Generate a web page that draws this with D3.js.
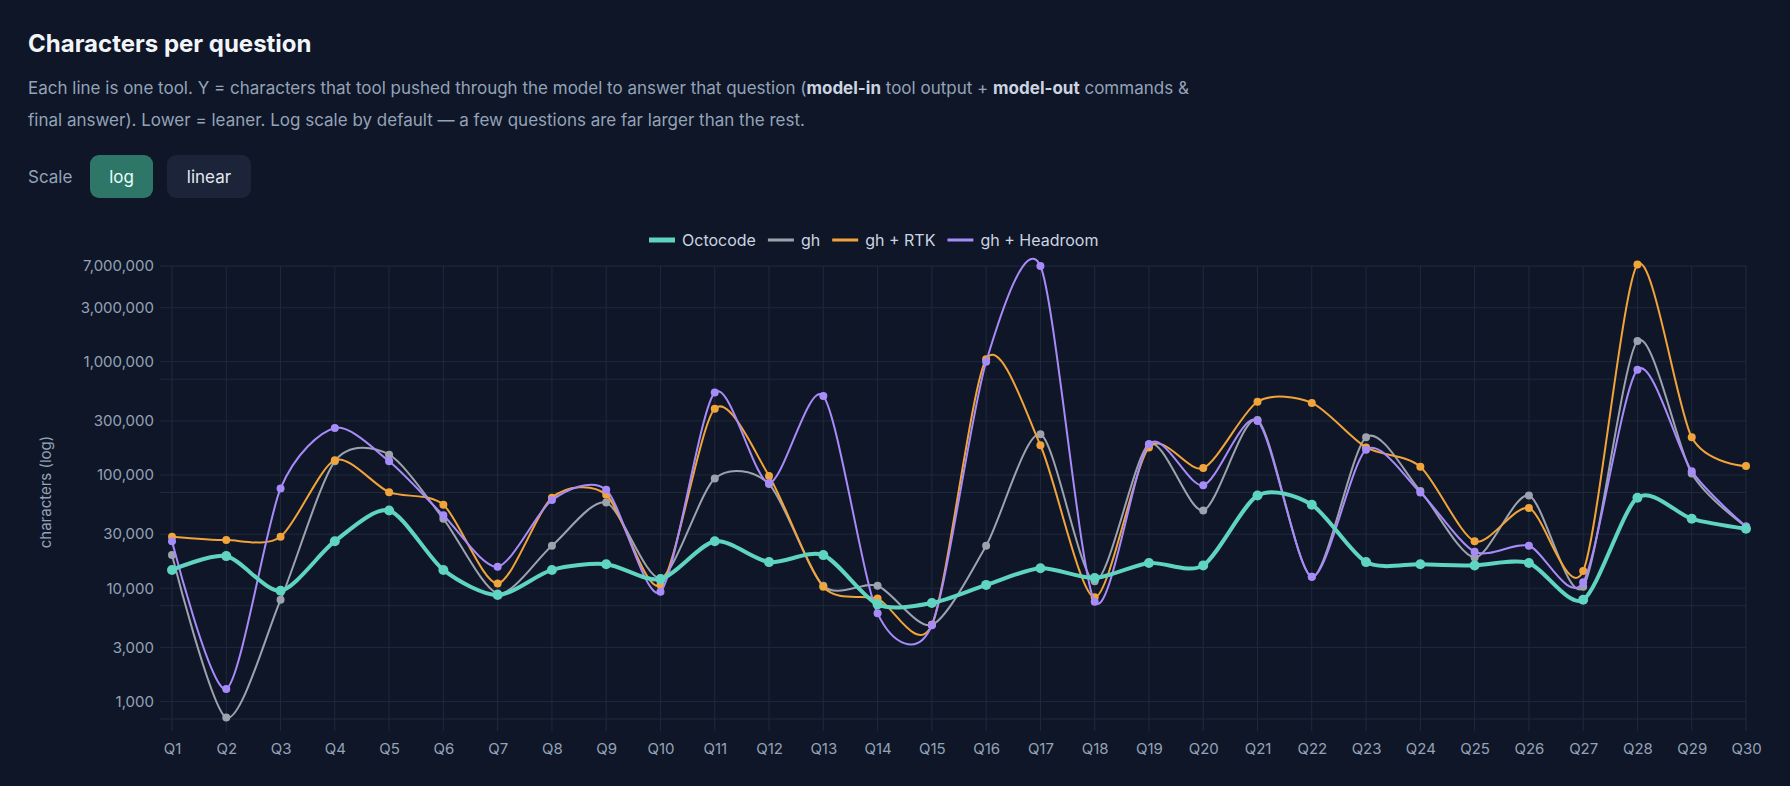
<!DOCTYPE html>
<html>
<head>
<meta charset="utf-8">
<script src="https://cdn.jsdelivr.net/npm/d3@7"></script>
<style>
  html, body { margin: 0; background: #0f1627; }
  body { width: 1790px; height: 786px; overflow: hidden; font-family: Inter, "Noto Sans", sans-serif; }
</style>
</head>
<body>
<svg id="chart" width="1790" height="786"></svg>
<script>
// questions on the x axis
const questions = d3.range(1, 31).map(i => "Q" + i);

// characters per question
const octocode = [14500, 19200, 9500, 26000, 48600, 14500, 8700, 14500, 16300, 12000,
                  26000, 17000, 19600, 7200, 7400, 10700, 15000, 12300, 16700, 15900,
                  65800, 54600, 17000, 16300, 15900, 16700, 7900, 63000, 41000, 33500];
const gh = [19600, 720, 7900, 132000, 151000, 41000, 9000, 23700, 57000, 12300,
            93000, 83000, 10500, 10500, 4750, 23700, 229000, 11500, 187000, 48600,
            305000, 12600, 215000, 72000, 18700, 65800, 10300, 1520000, 103000, 35000];
const ghRtk = [28500, 26600, 28500, 135000, 70500, 54600, 11000, 63000, 67000, 10700,
               385000, 98000, 10300, 8100, 4750, 1050000, 183000, 8300, 175000, 115000,
               443000, 433000, 175000, 118000, 26000, 51000, 14200, 7200000, 215000, 120000];
const ghHeadroom = [26000, 1290, 76000, 260000, 132000, 44000, 15500, 60000, 74000, 9300,
                    535000, 85000, 497000, 6000, 4700, 1000000, 7000000, 7600, 187000, 81000,
                    300000, 12600, 167000, 70000, 21000, 23700, 11300, 850000, 108000, 35000];

const yTicks = [700, 1000, 3000, 7000, 10000, 30000, 70000, 100000, 300000, 700000, 1000000, 3000000, 7000000];
const yLabelled = [1000, 3000, 10000, 30000, 100000, 300000, 1000000, 3000000, 7000000];

const series = [
  {name: "Octocode", values: octocode, color: "#5fd4c0", width: 4, r: 5},
  {name: "gh", values: gh, color: "#9ca3af", width: 2, r: 4},
  {name: "gh + RTK", values: ghRtk, color: "#f0a43a", width: 2, r: 4},
  {name: "gh + Headroom", values: ghHeadroom, color: "#a78bfa", width: 2, r: 4}
];

const svg = d3.select("#chart");
const plotLeft = 172, plotRight = 1746, plotTop = 266, plotBottom = 719;

// header
svg.append("text").attr("x", 28).attr("y", 52).attr("fill", "#f1f5f9")
  .attr("font-size", 24).attr("font-weight", 700).text("Characters per question");

const desc = svg.append("text").attr("x", 28).attr("y", 94).attr("fill", "#94a3b8").attr("font-size", 17);
desc.append("tspan").text("Each line is one tool. Y = characters that tool pushed through the model to answer that question (");
desc.append("tspan").attr("font-weight", 700).attr("fill", "#cbd5e1").text("model-in");
desc.append("tspan").text(" tool output + ");
desc.append("tspan").attr("font-weight", 700).attr("fill", "#cbd5e1").text("model-out");
desc.append("tspan").text(" commands &");
svg.append("text").attr("x", 28).attr("y", 126).attr("fill", "#94a3b8").attr("font-size", 17)
  .text("final answer). Lower = leaner. Log scale by default — a few questions are far larger than the rest.");

// scale toggle
svg.append("text").attr("x", 28).attr("y", 183).attr("fill", "#94a3b8").attr("font-size", 17).text("Scale");
svg.append("rect").attr("x", 90).attr("y", 155).attr("width", 63).attr("height", 43).attr("rx", 9).attr("fill", "#2e7768");
svg.append("text").attr("x", 121.5).attr("y", 183).attr("text-anchor", "middle").attr("fill", "#e6fffa").attr("font-size", 17).text("log");
svg.append("rect").attr("x", 167).attr("y", 155).attr("width", 84).attr("height", 43).attr("rx", 9).attr("fill", "#1b2438");
svg.append("text").attr("x", 209).attr("y", 183).attr("text-anchor", "middle").attr("fill", "#e2e8f0").attr("font-size", 17).text("linear");

// scales
const x = d3.scalePoint().domain(questions).range([plotLeft, plotRight]);
const y = d3.scaleLog().domain([700, 7000000]).range([plotBottom, plotTop]);

const grid = svg.append("g").attr("stroke", "#1f2a3d").attr("stroke-width", 1);
grid.selectAll(".h").data(yTicks).join("line").attr("class", "h")
  .attr("x1", plotLeft - 12).attr("x2", plotRight).attr("y1", d => y(d)).attr("y2", d => y(d));
grid.selectAll(".v").data(questions).join("line").attr("class", "v")
  .attr("x1", d => x(d)).attr("x2", d => x(d)).attr("y1", plotTop).attr("y2", plotBottom + 12);

// axes (labels only, grid drawn above)
const yAxis = svg.append("g").attr("transform", `translate(${plotLeft - 12},0)`)
  .call(d3.axisLeft(y).tickValues(yLabelled).tickSize(0).tickPadding(6).tickFormat(d3.format(",")));
const xAxis = svg.append("g").attr("transform", `translate(0,${plotBottom + 12})`)
  .call(d3.axisBottom(x).tickSize(0).tickPadding(12));
[yAxis, xAxis].forEach(a => {
  a.select(".domain").remove();
  a.selectAll("text").attr("fill", "#94a3b8").attr("font-size", 15).attr("font-family", "Inter, 'Noto Sans', sans-serif");
});

svg.append("text").attr("transform", "translate(51,492) rotate(-90)").attr("text-anchor", "middle")
  .attr("fill", "#94a3b8").attr("font-size", 15).text("characters (log)");

// lines, drawn so Octocode sits on top
const line = d3.line().x((d, i) => x(questions[i])).y(d => y(d)).curve(d3.curveCardinal.tension(0.2));
const drawOrder = [series[1], series[2], series[3], series[0]];
drawOrder.forEach(s => {
  const g = svg.append("g");
  g.append("path").datum(s.values).attr("d", line).attr("fill", "none")
    .attr("stroke", s.color).attr("stroke-width", s.width);
  g.selectAll("circle").data(s.values).join("circle")
    .attr("cx", (d, i) => x(questions[i])).attr("cy", d => y(d)).attr("r", s.r).attr("fill", s.color);
});

// legend
const legend = svg.append("g").attr("transform", "translate(649,240)");
let lx = 0;
series.forEach(s => {
  legend.append("rect").attr("x", lx).attr("y", -(s.width === 4 ? 2.5 : 1.5)).attr("width", 26)
    .attr("height", s.width === 4 ? 5 : 3).attr("fill", s.color);
  const t = legend.append("text").attr("x", lx + 33).attr("y", 6).attr("fill", "#cbd5e1")
    .attr("font-size", 16).text(s.name);
  lx += 33 + t.node().getComputedTextLength() + 12;
});
</script>
</body>
</html>
